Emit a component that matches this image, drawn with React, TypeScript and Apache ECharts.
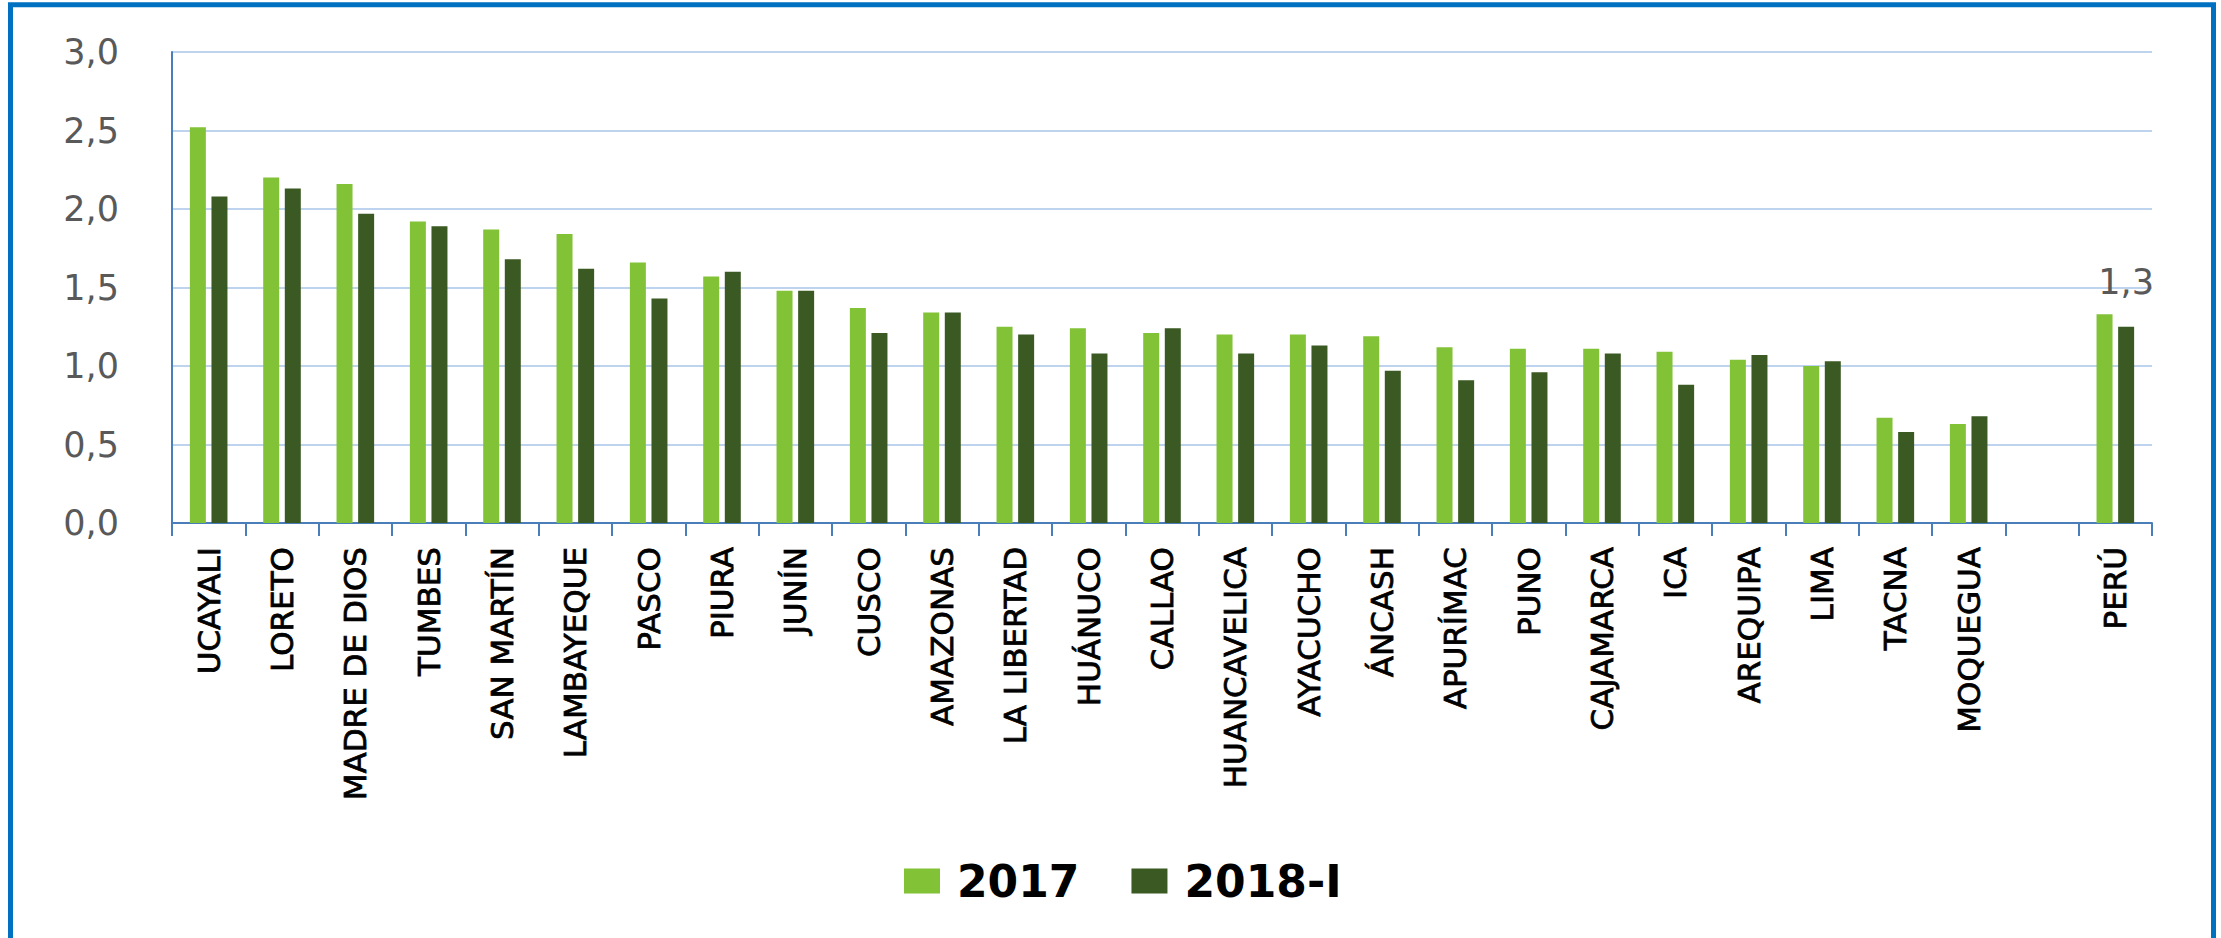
import React, { useEffect, useRef } from "react";
import * as echarts from "echarts";

const categories = [
  "UCAYALI", "LORETO", "MADRE DE DIOS", "TUMBES", "SAN MARTÍN", "LAMBAYEQUE",
  "PASCO", "PIURA", "JUNÍN", "CUSCO", "AMAZONAS", "LA LIBERTAD", "HUÁNUCO",
  "CALLAO", "HUANCAVELICA", "AYACUCHO", "ÁNCASH", "APURÍMAC", "PUNO",
  "CAJAMARCA", "ICA", "AREQUIPA", "LIMA", "TACNA", "MOQUEGUA", "", "PERÚ",
];

const values2017 = [
  2.52, 2.2, 2.16, 1.92, 1.87, 1.84, 1.66, 1.57, 1.48, 1.37, 1.34, 1.25, 1.24,
  1.21, 1.2, 1.2, 1.19, 1.12, 1.11, 1.11, 1.09, 1.04, 1.0, 0.67, 0.63, null, 1.33,
];

const values2018 = [
  2.08, 2.13, 1.97, 1.89, 1.68, 1.62, 1.43, 1.6, 1.48, 1.21, 1.34, 1.2, 1.08,
  1.24, 1.08, 1.13, 0.97, 0.91, 0.96, 1.08, 0.88, 1.07, 1.03, 0.58, 0.68, null, 1.25,
];

const seriesNames = ["2017", "2018-I"];
const labeledCategory = "PERÚ";

const fmt = (v: number) => v.toFixed(1).replace(".", ",");

export default function App() {
  const ref = useRef<HTMLDivElement>(null);

  useEffect(() => {
    document.body.style.margin = "0";
    if (!ref.current) return;
    const chart = echarts.init(ref.current, null, { renderer: "svg" });
    const font = "DejaVu Sans";
    const labelIdx = categories.indexOf(labeledCategory);

    chart.setOption({
      animation: false,
      backgroundColor: "#ffffff",
      graphic: [
        {
          type: "rect",
          shape: { x: 10.5, y: 4.75, width: 2203, height: 1000 },
          style: { fill: "none", stroke: "#0070C0", lineWidth: 5 },
          silent: true,
        },
      ],
      grid: { left: 172, right: 69, top: 52, bottom: 415, containLabel: false },
      legend: {
        left: 899,
        top: 854,
        icon: "rect",
        itemWidth: 36,
        itemHeight: 25,
        itemGap: 52,
        textStyle: {
          fontFamily: font,
          fontWeight: "bold",
          fontSize: 44,
          lineHeight: 44,
          color: "#000000",
          padding: [0, 0, 0, 12],
        },
        data: seriesNames,
      },
      xAxis: {
        type: "category",
        data: categories,
        axisLine: { lineStyle: { color: "#4A7EBB", width: 2 } },
        axisTick: { show: true, length: 13, lineStyle: { color: "#4A7EBB", width: 2 } },
        axisLabel: {
          rotate: 90,
          interval: 0,
          margin: 24,
          fontFamily: font,
          fontSize: 31,
          color: "#000000",
          textBorderColor: "#000000",
          textBorderWidth: 0.8,
        },
      },
      yAxis: {
        type: "value",
        min: 0,
        max: 3,
        interval: 0.5,
        axisLine: { show: true, lineStyle: { color: "#4A7EBB", width: 2 } },
        axisTick: { show: false },
        splitLine: { lineStyle: { color: "#BDD3EE", width: 2 } },
        axisLabel: {
          margin: 53,
          fontFamily: font,
          fontSize: 35,
          color: "#595959",
          formatter: (v: number) => fmt(v),
        },
      },
      series: [
        {
          name: seriesNames[0],
          type: "bar",
          data: values2017,
          barWidth: 16,
          barGap: "35%",
          itemStyle: { color: "#82C236" },
        },
        {
          name: seriesNames[1],
          type: "bar",
          data: values2018.map((v, i) =>
            i === labelIdx
              ? {
                  value: v,
                  label: {
                    show: true,
                    position: "top",
                    distance: 27,
                    fontFamily: font,
                    fontSize: 35,
                    color: "#595959",
                    formatter: (p: any) => fmt(p.value),
                  },
                }
              : v
          ),
          barWidth: 16,
          barGap: "35%",
          itemStyle: { color: "#3B5A23" },
        },
      ],
    });

    return () => chart.dispose();
  }, []);

  return <div ref={ref} style={{ width: 2221, height: 938 }} />;
}
